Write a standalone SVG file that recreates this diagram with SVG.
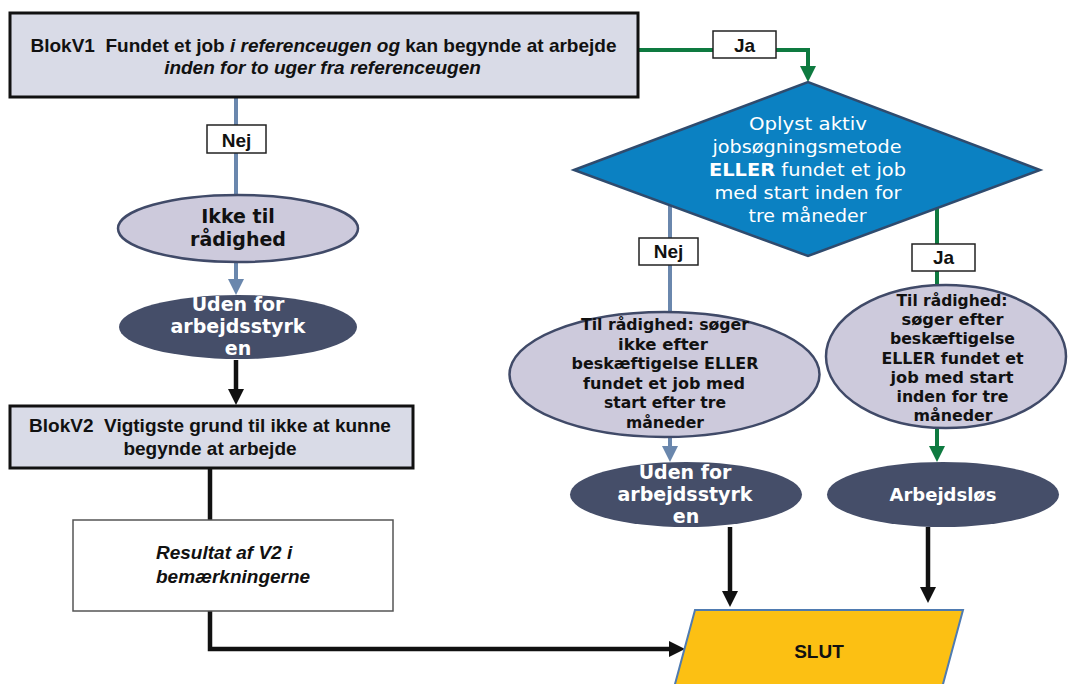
<svg xmlns="http://www.w3.org/2000/svg" width="1068" height="684" viewBox="0 0 1068 684">
<style>
.ar{font-family:"Liberation Sans",Arial,sans-serif;font-weight:bold;font-size:19px;fill:#111}
.it{font-style:italic}
.vb{font-family:"DejaVu Sans",Verdana,sans-serif;font-weight:bold;fill:#111}
.dv{font-family:"DejaVu Sans",Verdana,sans-serif;font-size:18px;fill:#fff}
.wh{fill:#fff}
.blk{fill:#d9dbe7;stroke:#111;stroke-width:3}
.lite{fill:#cdcadc;stroke:#404a68;stroke-width:2.5}
.dark{fill:#454e69}
.lbl{fill:#fff;stroke:#222;stroke-width:1.5}
.cg{fill:none;stroke:#0e7a40;stroke-width:4}
.cb{fill:none;stroke:#6a87ad;stroke-width:4}
.ck{fill:none;stroke:#111;stroke-width:4.5}
</style>
<defs>
<marker id="ag" viewBox="0 0 16 16" refX="8" refY="8" markerWidth="16" markerHeight="16" markerUnits="userSpaceOnUse" orient="auto"><path d="M0,0 L16,8 L0,16 z" fill="#0e7a40"/></marker>
<marker id="ab" viewBox="0 0 16 16" refX="8" refY="8" markerWidth="16" markerHeight="16" markerUnits="userSpaceOnUse" orient="auto"><path d="M0,0 L16,8 L0,16 z" fill="#6a87ad"/></marker>
<marker id="ak" viewBox="0 0 16 16" refX="8" refY="8" markerWidth="16" markerHeight="16" markerUnits="userSpaceOnUse" orient="auto"><path d="M0,0 L16,8 L0,16 z" fill="#111"/></marker>
</defs>
<rect width="1068" height="684" fill="#fff"/>
<g id="connectors">
<path class="cg" d="M638,50 H808 V74" marker-end="url(#ag)"/>
<path class="cb" d="M236,97 V200"/>
<path class="cb" d="M236,262 V287" marker-end="url(#ab)"/>
<path class="ck" d="M236,360 V397" marker-end="url(#ak)"/>
<path class="ck" d="M210,468 V520"/>
<path class="ck" d="M210,611 V649 H677" marker-end="url(#ak)"/>
<path class="cb" d="M670,200 V314"/>
<path class="cb" d="M670,437 V454" marker-end="url(#ab)"/>
<path class="cg" d="M937,205 V288"/>
<path class="cg" d="M937,428 V454" marker-end="url(#ag)"/>
<path class="ck" d="M730,527 V599" marker-end="url(#ak)"/>
<path class="ck" d="M928,527 V595" marker-end="url(#ak)"/>
<g id="lbl-ja1"><rect class="lbl" x="713" y="31" width="63" height="27"/><text class="ar" x="744.5" y="52" text-anchor="middle">Ja</text></g>
<g id="lbl-nej1"><rect class="lbl" x="207" y="125" width="59" height="28"/><text class="ar" x="236.5" y="146.5" text-anchor="middle">Nej</text></g>
<g id="lbl-nej2"><rect class="lbl" x="639" y="238" width="59" height="27"/><text class="ar" x="668.5" y="258" text-anchor="middle">Nej</text></g>
<g id="lbl-ja2"><rect class="lbl" x="912" y="244" width="63" height="27"/><text class="ar" x="943.5" y="264" text-anchor="middle">Ja</text></g>
</g>
<g id="blokv1">
<rect class="blk" x="10" y="13" width="628" height="84"/>
<text class="ar" x="323.5" y="52" text-anchor="middle" style="white-space:pre">BlokV1  Fundet et job <tspan class="it">i referenceugen og</tspan> kan begynde at arbejde</text>
<text class="ar it" x="322.5" y="74" text-anchor="middle">inden for to uger fra referenceugen</text>
</g>
<g id="diamond">
<polygon points="574,170 808,82 1040,170 808,256" fill="#0b81c2" stroke="#2f4b6e" stroke-width="2.5"/>
<text class="dv" x="808" y="130" text-anchor="middle" textLength="118" lengthAdjust="spacingAndGlyphs">Oplyst aktiv</text>
<text class="dv" x="807" y="153" text-anchor="middle" textLength="189" lengthAdjust="spacingAndGlyphs">jobsøgningsmetode</text>
<text class="dv" x="807.5" y="176" text-anchor="middle" textLength="197" lengthAdjust="spacingAndGlyphs"><tspan font-weight="bold">ELLER</tspan> fundet et job</text>
<text class="dv" x="808" y="199" text-anchor="middle" textLength="187" lengthAdjust="spacingAndGlyphs">med start inden for</text>
<text class="dv" x="807.5" y="222" text-anchor="middle" textLength="118" lengthAdjust="spacingAndGlyphs">tre måneder</text>
</g>
<g id="ikke-raadighed">
<ellipse class="lite" cx="238" cy="228.5" rx="120" ry="33.5"/>
<text class="vb" font-size="19" x="238" y="223" text-anchor="middle">Ikke til</text>
<text class="vb" font-size="19" x="238" y="246" text-anchor="middle">rådighed</text>
</g>
<g id="uden-for-1">
<ellipse class="dark" cx="238" cy="327" rx="119" ry="32"/>
<text class="vb wh" font-size="19" x="238" y="311" text-anchor="middle">Uden for</text>
<text class="vb wh" font-size="19" x="238" y="333" text-anchor="middle">arbejdsstyrk</text>
<text class="vb wh" font-size="19" x="238" y="355" text-anchor="middle">en</text>
</g>
<g id="blokv2">
<rect class="blk" x="10" y="406" width="403" height="62"/>
<text class="ar" x="210" y="432" text-anchor="middle" style="white-space:pre">BlokV2  Vigtigste grund til ikke at kunne</text>
<text class="ar" x="210" y="455" text-anchor="middle">begynde at arbejde</text>
</g>
<g id="resultat">
<rect x="73" y="520" width="320" height="91" fill="#fff" stroke="#555" stroke-width="1.5"/>
<text class="ar it" x="156" y="559">Resultat af V2 i</text>
<text class="ar it" x="156" y="583">bemærkningerne</text>
</g>
<g id="til-raadighed-nej">
<ellipse class="lite" cx="664.5" cy="374.5" rx="155" ry="62.5"/>
<g class="vb" font-size="15" text-anchor="middle">
<text x="665" y="330" textLength="168" lengthAdjust="spacingAndGlyphs">Til rådighed: søger</text>
<text x="663" y="349.5" textLength="90" lengthAdjust="spacingAndGlyphs">ikke efter</text>
<text x="665" y="369" textLength="187" lengthAdjust="spacingAndGlyphs">beskæftigelse ELLER</text>
<text x="664" y="388.5" textLength="162" lengthAdjust="spacingAndGlyphs">fundet et job med</text>
<text x="665" y="408" textLength="122" lengthAdjust="spacingAndGlyphs">start efter tre</text>
<text x="665" y="427.5" textLength="78" lengthAdjust="spacingAndGlyphs">måneder</text>
</g>
</g>
<g id="til-raadighed-ja">
<ellipse class="lite" cx="946" cy="356.5" rx="120" ry="71.5"/>
<g class="vb" font-size="15" text-anchor="middle">
<text x="952" y="306" textLength="111" lengthAdjust="spacingAndGlyphs">Til rådighed:</text>
<text x="952.5" y="325" textLength="102" lengthAdjust="spacingAndGlyphs">søger efter</text>
<text x="952.5" y="344" textLength="125" lengthAdjust="spacingAndGlyphs">beskæftigelse</text>
<text x="952.5" y="363.5" textLength="142" lengthAdjust="spacingAndGlyphs">ELLER fundet et</text>
<text x="952" y="382.5" textLength="123" lengthAdjust="spacingAndGlyphs">job med start</text>
<text x="952.5" y="401.5" textLength="112" lengthAdjust="spacingAndGlyphs">inden for tre</text>
<text x="953" y="420.5" textLength="79" lengthAdjust="spacingAndGlyphs">måneder</text>
</g>
</g>
<g id="uden-for-2">
<ellipse class="dark" cx="686" cy="494.5" rx="116" ry="32.5"/>
<text class="vb wh" font-size="19" x="685" y="479" text-anchor="middle">Uden for</text>
<text class="vb wh" font-size="19" x="685" y="501" text-anchor="middle">arbejdsstyrk</text>
<text class="vb wh" font-size="19" x="686" y="523" text-anchor="middle">en</text>
</g>
<g id="arbejdsloes">
<ellipse class="dark" cx="943" cy="494.5" rx="116" ry="32.5"/>
<text class="vb wh" font-size="18" x="943" y="501" text-anchor="middle">Arbejdsløs</text>
</g>
<g id="slut">
<polygon points="695,610 963,610 938.7,700 670.7,700" fill="#fcc013" stroke="#4f7bb1" stroke-width="2"/>
<text class="ar" font-size="21" x="819" y="658" text-anchor="middle">SLUT</text>
</g>
</svg>
